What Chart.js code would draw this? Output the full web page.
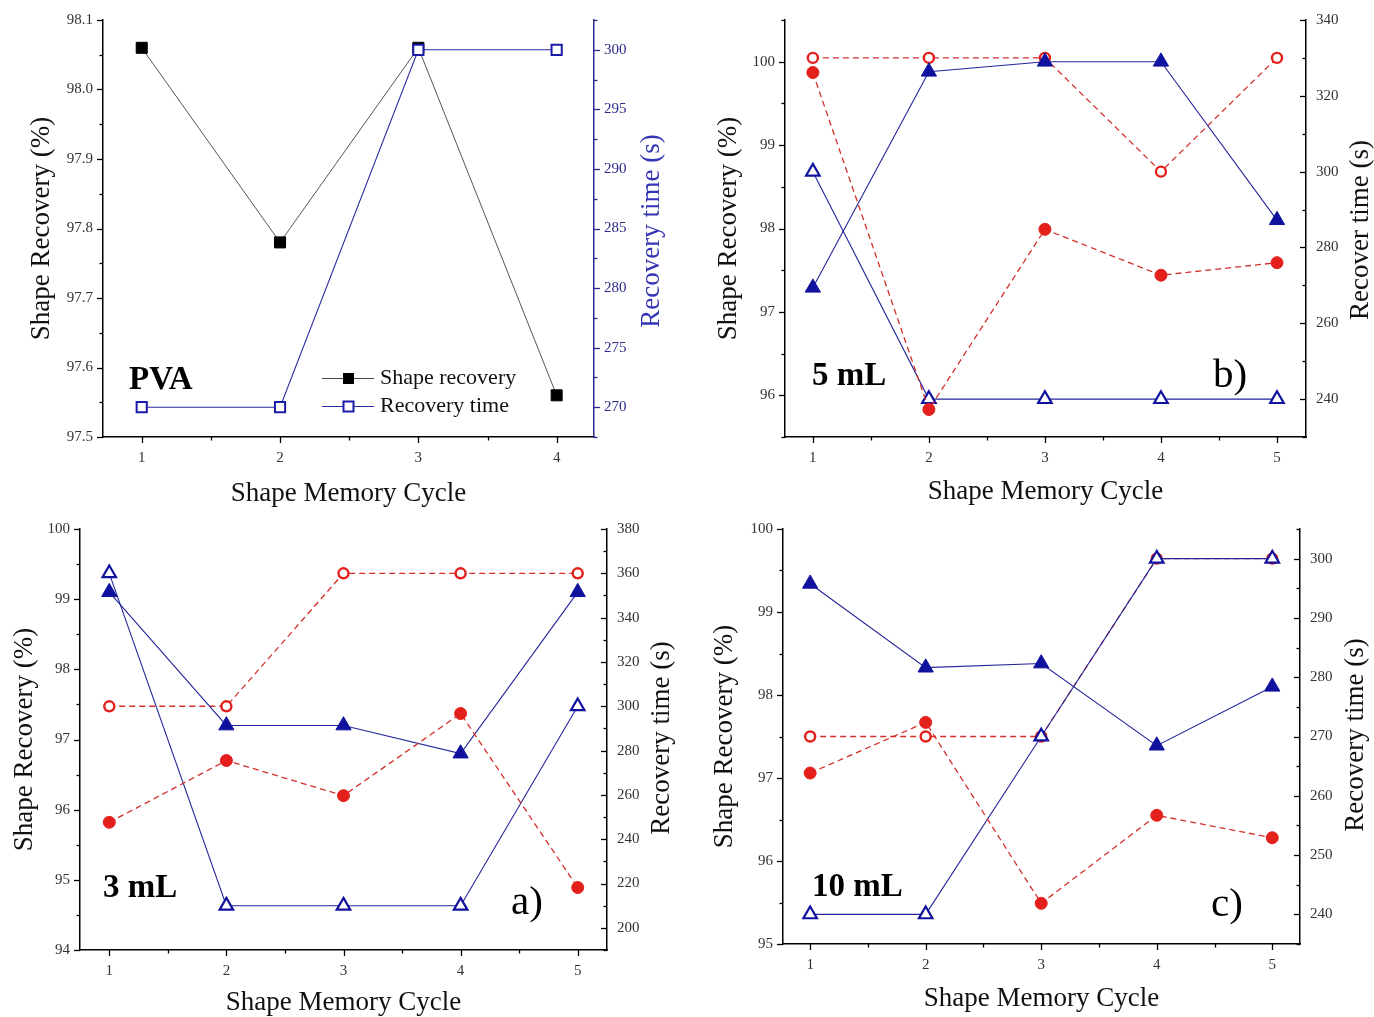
<!DOCTYPE html>
<html>
<head>
<meta charset="utf-8">
<script src="https://cdn.jsdelivr.net/npm/chart.js@4.4.1/dist/chart.umd.min.js"></script>
<style>
html,body{margin:0;padding:0;background:#fff;}
#wrap{position:relative;width:1374px;height:1017px;overflow:hidden;background:#fff;}
canvas{position:absolute;}
</style>
</head>
<body>
<div id="wrap">
<canvas id="pva" width="690" height="510" style="left:0;top:0;"></canvas>
<canvas id="pb" width="684" height="510" style="left:690px;top:0;"></canvas>
<canvas id="pa" width="690" height="507" style="left:0;top:510px;"></canvas>
<canvas id="pc" width="684" height="507" style="left:690px;top:510px;"></canvas>
</div>
<script>
// ---------------- DATA ----------------
const cyclesPVA = [1, 2, 3, 4];
const pvaShapeRecovery = [98.06, 97.78, 98.06, 97.56];
const pvaRecoveryTime = [270, 270, 300, 300];

const cycles = [1, 2, 3, 4, 5];
// b) 5 mL
const b_recoveryCircle   = [99.87, 95.83, 97.99, 97.44, 97.59];
const b_recoveryTriangle = [97.29, 99.88, 100.0, 100.0, 98.10];
const b_timeCircle       = [330, 330, 330, 300, 330];
const b_timeTriangle     = [300, 240, 240, 240, 240];
// a) 3 mL
const a_recoveryCircle   = [95.82, 96.70, 96.20, 97.37, 94.89];
const a_recoveryTriangle = [99.10, 97.20, 97.20, 96.80, 99.10];
const a_timeCircle       = [300, 300, 360, 360, 360];
const a_timeTriangle     = [360, 210, 210, 210, 300];
// c) 10 mL
const c_recoveryCircle   = [97.06, 97.67, 95.49, 96.55, 96.28];
const c_recoveryTriangle = [99.34, 98.33, 98.38, 97.39, 98.10];
const c_timeCircle       = [270, 270, 270, 300, 300];
const c_timeTriangle     = [240, 240, 270, 300, 300];

// tick labels
const pvaXTicks = [1, 2, 3, 4];
const pvaLeftTicks = [97.5, 97.6, 97.7, 97.8, 97.9, 98.0, 98.1];
const pvaRightTicks = [270, 275, 280, 285, 290, 295, 300];
const cycleTicks = [1, 2, 3, 4, 5];
const bLeftTicks = [96, 97, 98, 99, 100];
const bRightTicks = [240, 260, 280, 300, 320, 340];
const aLeftTicks = [94, 95, 96, 97, 98, 99, 100];
const aRightTicks = [200, 220, 240, 260, 280, 300, 320, 340, 360, 380];
const cLeftTicks = [95, 96, 97, 98, 99, 100];
const cRightTicks = [240, 250, 260, 270, 280, 290, 300];

// ---------------- STYLE ----------------
const FONT = '"Liberation Serif", "Times New Roman", serif';
const RED = '#e3201c';
const RED_LINE = '#d3302c';
const BLUE = '#10129e';
const BLUE_LINE = '#24269a';
const NAVY = '#2b2b8c';
const TICK_COLOR = '#333';
const TITLE_SIZE = 27;

function pts(xs, ys) { return xs.map((x, i) => ({x: x, y: ys[i]})); }

function minorOf(major, lo, hi) {
  const step = major[1] - major[0];
  const out = [];
  for (let k = -1; k <= major.length; k++) {
    const v = major[0] + (k + 0.5) * step;
    if (v >= lo - 1e-9 && v <= hi + 1e-9) out.push(v);
  }
  return out;
}

function tickPlugin(spec) {
  return {
    id: 'minorMajorTicks',
    afterDraw(chart) {
      const ctx = chart.ctx, ca = chart.chartArea;
      ctx.save();
      ctx.lineWidth = 1.3;
      for (const id in spec) {
        const s = chart.scales[id], t = spec[id];
        ctx.strokeStyle = t.color;
        const draw = (v, len) => {
          const p = Math.round(s.getPixelForValue(v)) + 0.5;
          ctx.beginPath();
          if (id === 'x') {
            ctx.moveTo(p, ca.bottom); ctx.lineTo(p, ca.bottom + len * t.dir);
          } else {
            const x0 = id === 'y' ? ca.left : ca.right;
            ctx.moveTo(x0, p); ctx.lineTo(x0 + len * t.dir, p);
          }
          ctx.stroke();
        };
        t.major.forEach(v => draw(v, 6));
        t.minor.forEach(v => draw(v, 3.5));
      }
      ctx.restore();
    }
  };
}

function annotPlugin(p) {
  return {
    id: 'annot',
    afterDraw(chart) {
      const ctx = chart.ctx;
      ctx.save();
      // right axis title, reading bottom-to-top
      ctx.translate(p.rTitle.x, p.rTitle.y);
      ctx.rotate(-Math.PI / 2);
      ctx.fillStyle = p.rTitle.color;
      ctx.font = TITLE_SIZE + 'px ' + FONT;
      ctx.textAlign = 'center';
      ctx.textBaseline = 'middle';
      ctx.fillText(p.rTitle.text, 0, 0);
      ctx.restore();
      ctx.save();
      ctx.fillStyle = '#000';
      ctx.textBaseline = 'alphabetic';
      ctx.textAlign = 'left';
      ctx.font = 'bold 33px ' + FONT;
      ctx.fillText(p.tag.text, p.tag.x, p.tag.y);
      if (p.letter) {
        ctx.font = '41px ' + FONT;
        ctx.fillText(p.letter.text, p.letter.x, p.letter.y);
      }
      if (p.legend) {
        ctx.font = '22px ' + FONT;
        ctx.textBaseline = 'middle';
        p.legend.forEach(it => {
          ctx.strokeStyle = it.line; ctx.lineWidth = 1.2;
          ctx.beginPath(); ctx.moveTo(322, it.y + 0.5); ctx.lineTo(374, it.y + 0.5); ctx.stroke();
          if (it.filled) {
            ctx.fillStyle = it.color; ctx.fillRect(343, it.y - 5, 11, 11);
          } else {
            ctx.fillStyle = '#fff'; ctx.fillRect(343.5, it.y - 4.5, 10, 10);
            ctx.strokeStyle = it.color; ctx.lineWidth = 2; ctx.strokeRect(343.5, it.y - 4.5, 10, 10);
          }
          ctx.fillStyle = '#111';
          ctx.fillText(it.text, 380, it.y);
        });
      }
      ctx.restore();
    }
  };
}

function makePanel(p) {
  const tickFont = {family: FONT, size: 15};
  const fixTicks = arr => (s => { s.ticks = arr.map(v => ({value: v})); });
  const border = c => ({display: true, color: c, width: 1.5});
  const noGrid = {display: false, drawTicks: false, drawOnChartArea: false};
  new Chart(document.getElementById(p.id), {
    type: 'line',
    data: {datasets: p.datasets},
    options: {
      responsive: false,
      animation: false,
      events: [],
      layout: {padding: {top: p.top, left: 0, right: 0, bottom: 0}, autoPadding: false},
      plugins: {legend: {display: false}, tooltip: {enabled: false}},
      scales: {
        x: {
          type: 'linear', min: p.x.min, max: p.x.max,
          afterBuildTicks: fixTicks(p.x.ticks),
          afterFit: s => { s.height = p.x.size; },
          ticks: {font: tickFont, color: TICK_COLOR, padding: 12, autoSkip: false, maxRotation: 0, callback: v => String(v)},
          grid: noGrid, border: border('#000'),
          title: {display: true, text: 'Shape Memory Cycle', color: '#111', font: {family: FONT, size: TITLE_SIZE, lineHeight: 1}, padding: {top: 0, bottom: p.x.titlePad}}
        },
        y: {
          type: 'linear', position: 'left', min: p.y.min, max: p.y.max,
          afterBuildTicks: fixTicks(p.y.ticks),
          afterFit: s => { s.width = p.y.size; },
          ticks: {font: tickFont, color: TICK_COLOR, padding: 10, autoSkip: false, callback: p.y.fmt || (v => String(v))},
          grid: noGrid, border: border('#000'),
          title: {display: true, text: p.y.title, color: '#111', font: {family: FONT, size: TITLE_SIZE, lineHeight: 1}, padding: {top: p.y.titlePad, bottom: 0}}
        },
        y1: {
          type: 'linear', position: 'right', min: p.y1.min, max: p.y1.max,
          afterBuildTicks: fixTicks(p.y1.ticks),
          afterFit: s => { s.width = p.y1.size; },
          ticks: {font: tickFont, color: p.y1.labelColor || TICK_COLOR, padding: 10, autoSkip: false, callback: v => String(v)},
          grid: noGrid, border: border(p.y1.axisColor || '#000'),
          title: {display: false}
        }
      }
    },
    plugins: [
      tickPlugin({
        x: {major: p.x.ticks, minor: minorOf(p.x.ticks, p.x.min, p.x.max).filter(v => v > p.x.ticks[0] && v < p.x.ticks[p.x.ticks.length - 1]), dir: 1, color: '#000'},
        y: {major: p.y.ticks, minor: minorOf(p.y.ticks, p.y.min, p.y.max), dir: -1, color: '#000'},
        y1: {major: p.y1.ticks, minor: minorOf(p.y1.ticks, p.y1.min, p.y1.max), dir: p.y1.dir, color: p.y1.axisColor || '#000'}
      }),
      annotPlugin(p)
    ]
  });
}

function fourSeries(recC, recT, timeC, timeT) {
  const common = {fill: false, tension: 0, clip: false, borderWidth: 1};
  return [
    Object.assign({}, common, {data: pts(cycles, recC), yAxisID: 'y', borderColor: RED_LINE, borderDash: [6, 4], borderWidth: 1.3,
      pointStyle: 'circle', pointRadius: 6, pointBackgroundColor: RED, pointBorderColor: RED, pointBorderWidth: 1}),
    Object.assign({}, common, {data: pts(cycles, recT), yAxisID: 'y', borderColor: BLUE_LINE, borderWidth: 1.1,
      pointStyle: 'triangle', pointRadius: 8.8, pointBackgroundColor: BLUE, pointBorderColor: BLUE, pointBorderWidth: 1}),
    Object.assign({}, common, {data: pts(cycles, timeT), yAxisID: 'y1', borderColor: BLUE_LINE, borderWidth: 1.1,
      pointStyle: 'triangle', pointRadius: 7.8, pointBackgroundColor: '#fff', pointBorderColor: BLUE, pointBorderWidth: 2.2}),
    Object.assign({}, common, {data: pts(cycles, timeC), yAxisID: 'y1', borderColor: RED_LINE, borderDash: [6, 4], borderWidth: 1.3,
      pointStyle: 'circle', pointRadius: 5, pointBackgroundColor: '#fff', pointBorderColor: RED, pointBorderWidth: 2.4})
  ];
}

// ---------------- PANELS ----------------
makePanel({
  id: 'pva', top: 20,
  x: {min: 0.72, max: 4.27, ticks: pvaXTicks, size: 73, titlePad: 3},
  y: {min: 97.5, max: 98.1, ticks: pvaLeftTicks, size: 103, title: 'Shape Recovery (%)', titlePad: 28, fmt: v => v.toFixed(1)},
  y1: {min: 267.5, max: 302.5, ticks: pvaRightTicks, size: 96, dir: 1, axisColor: NAVY, labelColor: NAVY},
  rTitle: {text: 'Recovery time (s)', x: 652, y: 231, color: '#3434b4'},
  tag: {text: 'PVA', x: 129, y: 389},
  legend: [
    {y: 378, text: 'Shape recovery', line: '#444', color: '#000', filled: true},
    {y: 406, text: 'Recovery time', line: '#2a2ca0', color: '#1a1aa8', filled: false}
  ],
  datasets: [
    {data: pts(cyclesPVA, pvaRecoveryTime), yAxisID: 'y1', borderColor: '#2a2ca0', borderWidth: 1.1, fill: false, tension: 0, clip: false,
      pointStyle: 'rect', pointRadius: 7.2, pointBackgroundColor: '#fff', pointBorderColor: '#1a1aa8', pointBorderWidth: 2},
    {data: pts(cyclesPVA, pvaShapeRecovery), yAxisID: 'y', borderColor: '#555', borderWidth: 1, fill: false, tension: 0, clip: false,
      pointStyle: 'rect', pointRadius: 7.8, pointBackgroundColor: '#000', pointBorderColor: '#000', pointBorderWidth: 1}
  ]
});

makePanel({
  id: 'pb', top: 20,
  x: {min: 0.76, max: 5.25, ticks: cycleTicks, size: 73, titlePad: 5},
  y: {min: 95.5, max: 100.5, ticks: bLeftTicks, size: 95, title: 'Shape Recovery (%)', titlePad: 25},
  y1: {min: 230, max: 340, ticks: bRightTicks, size: 68, dir: -1},
  rTitle: {text: 'Recover time (s)', x: 671, y: 230, color: '#111'},
  tag: {text: '5 mL', x: 122, y: 385},
  letter: {text: 'b)', x: 523, y: 387},
  datasets: fourSeries(b_recoveryCircle, b_recoveryTriangle, b_timeCircle, b_timeTriangle)
});

makePanel({
  id: 'pa', top: 18,
  x: {min: 0.75, max: 5.25, ticks: cycleTicks, size: 67, titlePad: 1},
  y: {min: 94, max: 100, ticks: aLeftTicks, size: 80, title: 'Shape Recovery (%)', titlePad: 11},
  y1: {min: 190, max: 380, ticks: aRightTicks, size: 83, dir: -1},
  rTitle: {text: 'Recovery time (s)', x: 662, y: 228, color: '#111'},
  tag: {text: '3 mL', x: 103, y: 387},
  letter: {text: 'a)', x: 511, y: 404},
  datasets: fourSeries(a_recoveryCircle, a_recoveryTriangle, a_timeCircle, a_timeTriangle)
});

makePanel({
  id: 'pc', top: 18,
  x: {min: 0.765, max: 5.24, ticks: cycleTicks, size: 73, titlePad: 5},
  y: {min: 95, max: 100, ticks: cLeftTicks, size: 93, title: 'Shape Recovery (%)', titlePad: 21},
  y1: {min: 235, max: 305, ticks: cRightTicks, size: 74, dir: -1},
  rTitle: {text: 'Recovery time (s)', x: 666, y: 225, color: '#111'},
  tag: {text: '10 mL', x: 122, y: 386},
  letter: {text: 'c)', x: 521, y: 406},
  datasets: fourSeries(c_recoveryCircle, c_recoveryTriangle, c_timeCircle, c_timeTriangle)
});
</script>
</body>
</html>
